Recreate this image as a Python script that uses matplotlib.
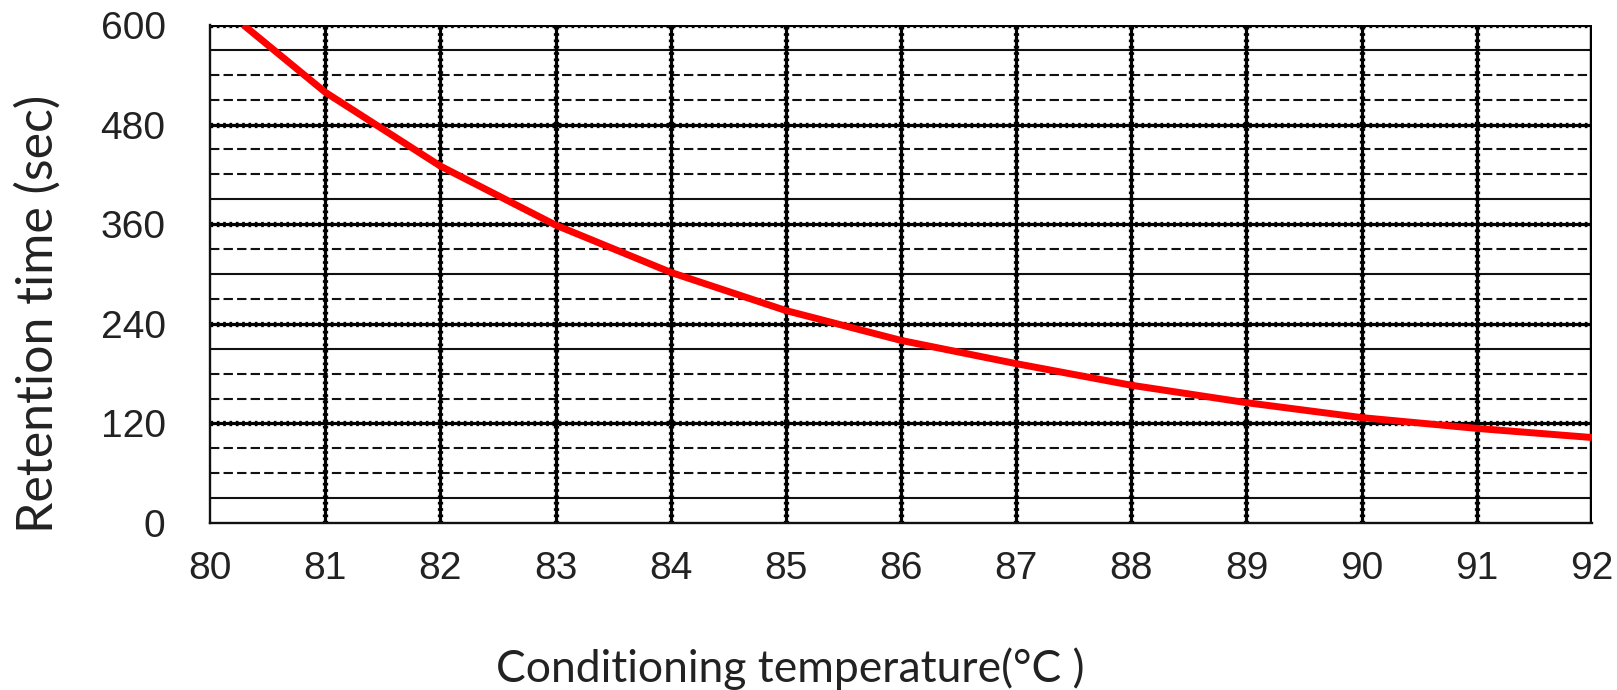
import matplotlib
matplotlib.use("Agg")
import matplotlib.pyplot as plt

# ---- data ----
temperature = [80.29, 81, 82, 83, 84, 85, 86, 87, 88, 89, 90, 91, 92]
retention = [600, 519, 430, 359, 302, 256, 220, 192, 166, 145, 127, 114, 103]

x_ticks = list(range(80, 93))
y_ticks = [0, 120, 240, 360, 480, 600]
minor_solid = [30, 210, 300, 390, 570]
minor_dashed = [60, 90, 150, 180, 270, 330, 420, 450, 510, 540]

x_label = "Conditioning temperature(°C )"
y_label = "Retention time (sec)"

fig = plt.figure(figsize=(16.17, 6.90), dpi=100)
ax = fig.add_axes([0.1299, 0.242, 0.8546, 0.7218])
ax.set_xlim(80, 92)
ax.set_ylim(0, 600)

# minor horizontal lines
for v in minor_solid:
    ax.axhline(v, color="#111111", lw=1.5, zorder=1)
for v in minor_dashed:
    ax.axhline(v, color="#111111", lw=1.5, ls=(0, (4.5, 2.0)), zorder=1)

# major horizontal lines (thick with dotted texture)
for v in y_ticks[1:]:
    ax.axhline(v, color="black", lw=2.3, zorder=2)
    ax.axhline(v, color="black", lw=3.8, ls=(0, (0.5, 0.7)), zorder=2)

# vertical lines
for v in x_ticks[1:-1]:
    ax.axvline(v, color="black", lw=2.3, zorder=2)
    ax.axvline(v, color="black", lw=3.8, ls=(0, (0.5, 0.7)), zorder=2)
ax.axvline(x_ticks[-1], color="black", lw=3.2, zorder=2)

for s in ["top", "right"]:
    ax.spines[s].set_visible(False)
for s in ["left", "bottom"]:
    ax.spines[s].set_linewidth(1.7)
    ax.spines[s].set_color("#111111")

ax.plot(temperature, retention, color="#ff0000", lw=5.0, zorder=5,
        solid_capstyle="butt", clip_on=True)

ax.set_xticks(x_ticks)
ax.set_yticks(y_ticks)
ax.tick_params(axis="both", length=0, labelsize=28, labelcolor="#222222")
ax.tick_params(axis="x", pad=20)
ax.tick_params(axis="y", pad=32)
for lab in ax.get_xticklabels() + ax.get_yticklabels():
    lab.set_fontfamily("Liberation Sans")

fig.text(0.4886, 0.012, x_label, ha="center", va="baseline",
         fontsize=32, family="Lato", color="#222222")
fig.text(0.0235, 0.545, y_label, ha="center", va="center", rotation=90,
         fontsize=36, family="Lato", color="#222222")

fig.savefig("out.png", dpi=100)
